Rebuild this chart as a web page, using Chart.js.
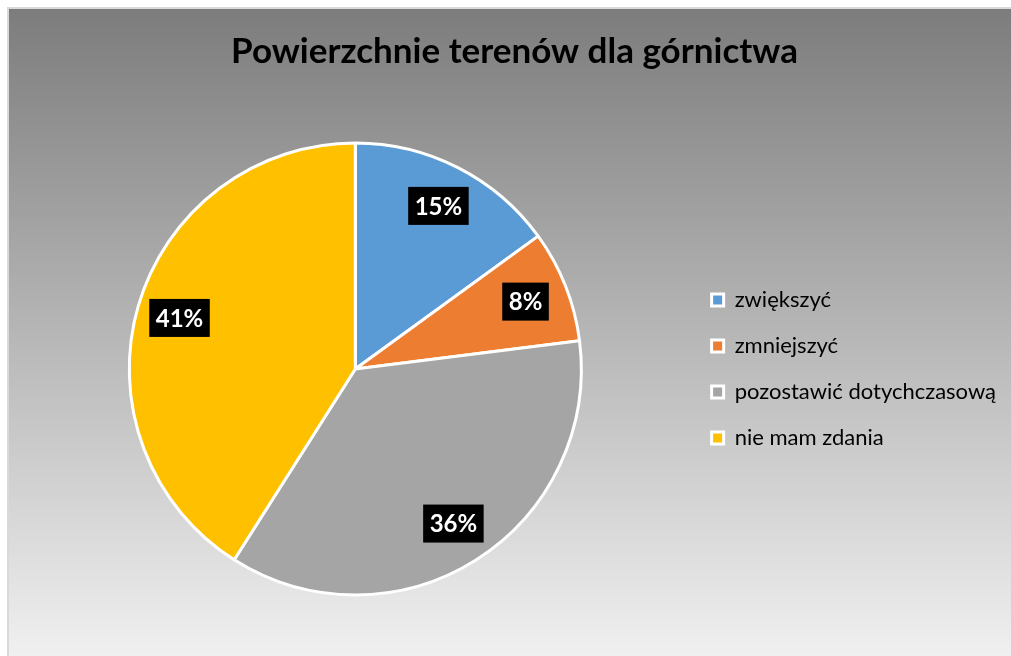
<!DOCTYPE html>
<html>
<head>
<meta charset="utf-8">
<script src="https://cdn.jsdelivr.net/npm/chart.js@4"></script>
<style>
  html, body { margin: 0; padding: 0; background: #fff; }
  #wrap { width: 1011px; height: 656px; }
</style>
</head>
<body>
<div id="wrap"><canvas id="pie"></canvas></div>
<script>
Chart.defaults.font.family = 'Lato';
Chart.defaults.color = '#000';

var categories = ['zwiększyć', 'zmniejszyć', 'pozostawić dotychczasową', 'nie mam zdania'];
var percents = [15, 8, 36, 41];
var colors = ['#5B9BD5', '#ED7D31', '#A5A5A5', '#FFC000'];

// gradient background + thin frame like the Excel chart area
var background = {
    id: 'background',
    beforeDraw: function (chart) {
        var c = chart.ctx;
        c.save();
        var g = c.createLinearGradient(0, 7, 0, chart.height);
        g.addColorStop(0, '#7c7c7c');
        g.addColorStop(1, '#f0f0f0');
        c.fillStyle = g;
        c.fillRect(7, 7, chart.width - 7, chart.height - 7);
        c.strokeStyle = '#d9d9d9';
        c.lineWidth = 2;
        c.beginPath();
        c.moveTo(8, chart.height);
        c.lineTo(8, 8);
        c.lineTo(chart.width, 8);
        c.stroke();
        c.restore();
    }
};

// black boxed percentage labels
var boxLabels = {
    id: 'boxLabels',
    afterDatasetsDraw: function (chart) {
        var c = chart.ctx;
        var meta = chart.getDatasetMeta(0);
        c.save();
        c.font = 'bold 24px Lato';
        c.textAlign = 'center';
        c.textBaseline = 'middle';
        meta.data.forEach(function (arc, i) {
            var p = arc.getProps(['x', 'y', 'startAngle', 'endAngle', 'outerRadius'], true);
            var mid = (p.startAngle + p.endAngle) / 2;
            var r = p.outerRadius * 0.81;
            var x = p.x + Math.cos(mid) * r;
            var y = p.y + Math.sin(mid) * r;
            var txt = percents[i] + '%';
            var w = c.measureText(txt).width + 13;
            var h = 38;
            c.fillStyle = '#000';
            c.fillRect(x - w / 2, y - h / 2, w, h);
            c.fillStyle = '#fff';
            c.fillText(txt, x, y + 1);
        });
        c.restore();
    }
};

var ctx = document.getElementById('pie');
new Chart(ctx, {
    type: 'pie',
    data: {
        labels: categories,
        datasets: [{
            data: percents,
            backgroundColor: colors,
            borderColor: '#fff',
            borderWidth: 3,
            radius: 226
        }]
    },
    options: {
        responsive: true,
        maintainAspectRatio: false,
        animation: false,
        events: [],
        layout: {
            padding: { left: 23, right: 5, top: 0, bottom: 19 }
        },
        plugins: {
            title: {
                display: true,
                text: 'Powierzchnie terenów dla górnictwa',
                font: { size: 35, weight: 'bold' },
                padding: { top: 31, bottom: 28 },
                color: '#000'
            },
            legend: {
                position: 'right',
                align: 'center',
                fullSize: false,
                labels: {
                    boxWidth: 12,
                    boxHeight: 12,
                    padding: 24,
                    font: { size: 22 },
                    color: '#000',
                    generateLabels: function (chart) {
                        var items = Chart.overrides.pie.plugins.legend.labels.generateLabels(chart);
                        items.forEach(function (it) { it.lineWidth = 3; });
                        return items;
                    }
                }
            },
            tooltip: { enabled: false }
        }
    },
    plugins: [background, boxLabels]
});
</script>
</body>
</html>
